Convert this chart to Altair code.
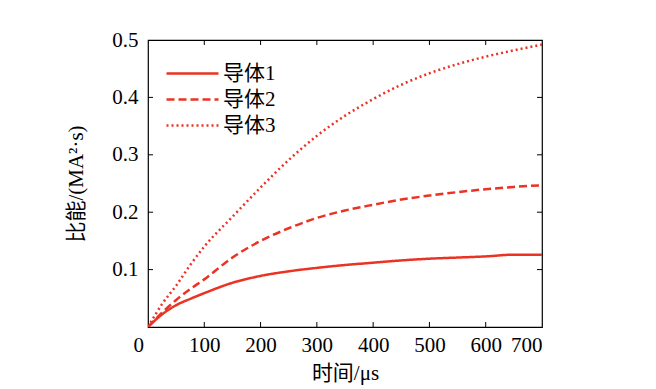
import altair as alt
import pandas as pd

t = [0, 25, 50, 75, 100, 150, 200, 250, 300, 350, 400, 450, 500, 550, 600, 650, 700]
c1 = [0, 0.022, 0.038, 0.049, 0.059, 0.077, 0.089, 0.097, 0.103, 0.108, 0.112, 0.116, 0.119, 0.121, 0.123, 0.126, 0.126]
c2 = [0, 0.025, 0.047, 0.066, 0.083, 0.121, 0.150, 0.172, 0.190, 0.203, 0.213, 0.222, 0.229, 0.235, 0.240, 0.244, 0.247]
c3 = [0, 0.040, 0.072, 0.108, 0.140, 0.192, 0.243, 0.291, 0.333, 0.368, 0.397, 0.422, 0.442, 0.458, 0.471, 0.482, 0.492]
names = ["导体1", "导体2", "导体3"]
x_ticks = [100, 200, 300, 400, 500, 600]
y_ticks = [0.1, 0.2, 0.3, 0.4]

rows = []
for name, vals in zip(names, [c1, c2, c3]):
    for ti, v in zip(t, vals):
        rows.append({"t": ti, "v": v, "s": name})
df = pd.DataFrame(rows)

RED = "#ea3323"
W, H = 394, 287
NUMF = "Liberation Serif"
MIXF = "Liberation Serif, Noto Sans CJK SC"
FS = 21

xs = alt.Scale(domain=[0, 700], nice=False)
ys = alt.Scale(domain=[0, 0.5], nice=False)

lines = alt.Chart(df).mark_line(color=RED, strokeWidth=2.5, clip=True, interpolate="monotone").encode(
    x=alt.X("t:Q", scale=xs, axis=alt.Axis(
        title="时间/μs", values=[0, 100, 200, 300, 400, 500, 600, 700],
        ticks=False, domain=False, grid=False, labelFont=NUMF, labelFontSize=FS,
        labelColor="black", labelPadding=7, titleFont=MIXF, titleFontSize=FS,
        titleFontWeight="normal", titleColor="black", titlePadding=7,
        labelOffset=alt.ExprRef(expr="datum.value == 0 ? -15 : 0"))),
    y=alt.Y("v:Q", scale=ys, axis=alt.Axis(
        title="比能/(MA²·s)", values=[0.1, 0.2, 0.3, 0.4, 0.5], format=".1f",
        ticks=False, domain=False, grid=False, labelFont=NUMF, labelFontSize=FS,
        labelColor="black", labelPadding=10, titleFont=MIXF, titleFontSize=FS,
        titleFontWeight="normal", titleColor="black", titlePadding=25)),
    strokeDash=alt.StrokeDash("s:N", scale=alt.Scale(domain=names, range=[[1, 0], [8, 4], [2, 3]]),
        legend=alt.Legend(title=None, orient="none", legendX=33, legendY=22,
                          symbolType="M-2.6,0H2.6", symbolSize=400, symbolStrokeWidth=2.5,
                          symbolStrokeColor=RED, symbolFillColor="transparent",
                          labelFont=MIXF, labelFontSize=FS,
                          labelColor="black", rowPadding=4, padding=0, labelOffset=19)),
)

xt = pd.DataFrame({"x": x_ticks})
yt = pd.DataFrame({"y": y_ticks})
tick_bot = alt.Chart(xt).mark_rule(color="black", strokeWidth=1).encode(
    x=alt.X("x:Q", scale=xs), y=alt.value(H), y2=alt.value(H - 5))
tick_top = alt.Chart(xt).mark_rule(color="black", strokeWidth=1).encode(
    x=alt.X("x:Q", scale=xs), y=alt.value(0), y2=alt.value(5))
tick_l = alt.Chart(yt).mark_rule(color="black", strokeWidth=1).encode(
    y=alt.Y("y:Q", scale=ys), x=alt.value(0), x2=alt.value(5))
tick_r = alt.Chart(yt).mark_rule(color="black", strokeWidth=1).encode(
    y=alt.Y("y:Q", scale=ys), x=alt.value(W), x2=alt.value(W - 5))

chart = alt.layer(lines, tick_bot, tick_top, tick_l, tick_r).properties(
    width=W, height=H,
    autosize=alt.AutoSizeParams(type="none"),
    padding={"left": 140, "top": 32, "right": 100, "bottom": 62},
    background="white",
).configure_view(stroke="black", strokeWidth=1.2)

chart.save("out.html", embed_options={"renderer": "svg", "actions": False})
